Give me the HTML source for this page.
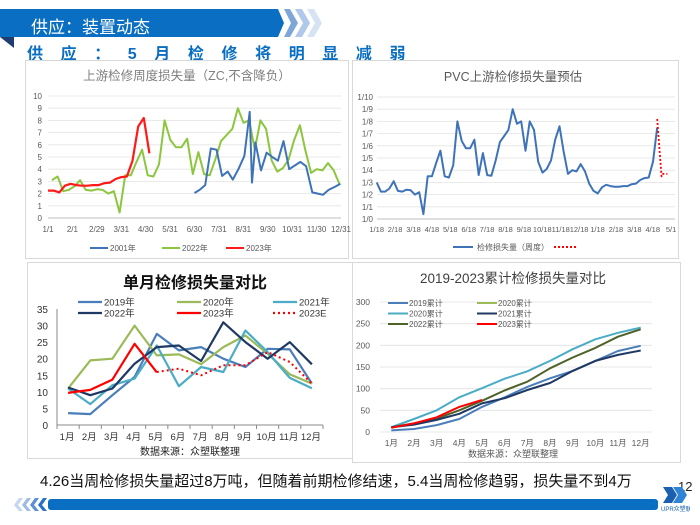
<!DOCTYPE html>
<html><head><meta charset="utf-8">
<style>
body{margin:0;width:700px;height:525px;overflow:hidden;background:#fff;font-family:"Liberation Sans","Noto Sans CJK SC",sans-serif;position:relative}
.abs{position:absolute}
</style></head>
<body>
<svg class="abs" style="left:0;top:9px" width="290" height="29"><polygon points="0,0 278,0 284,14 278,28 0,28" fill="#0a6fc2"/></svg>
<div class="abs" style="left:31px;top:13px;color:#fff;font-size:17px;font-family:'Liberation Sans','Noto Sans CJK SC',sans-serif">供应：装置动态</div>
<svg class="abs" style="left:284px;top:9px" width="50" height="30">
<polygon points="0,0 6,0 14,14 6,28 0,28 7,14" fill="#7fa6d9"/>
<polygon points="11,0 18,0 26,14 18,28 11,28 19,14" fill="#b0c9ea"/>
<polygon points="23,0 30,0 38,14 30,28 23,28 31,14" fill="#d6e3f3"/>
</svg>
<svg class="abs" style="left:0;top:37px" width="14" height="12"><polygon points="0,0 14,0 14,11" fill="#1f3d70"/></svg>
<div class="abs" style="left:27px;top:40px;color:#0a6fc2;font-size:16px;font-weight:bold;letter-spacing:17.6px;font-family:'Liberation Sans','Noto Sans CJK SC',sans-serif;white-space:nowrap">供应：5月检修将明显减弱</div>

<svg class="abs" id="c1" style="left:0;top:0" width="700" height="525"></svg>

<div class="abs" style="left:40px;top:470px;font-size:15px;color:#111;font-family:'Liberation Sans','Noto Sans CJK SC',sans-serif">4.26当周检修损失量超过8万吨，但随着前期检修结速，5.4当周检修趋弱，损失量不到4万</div>
<div class="abs" style="left:678px;top:479px;font-size:13px;color:#222">12</div>
<svg class="abs" style="left:14px;top:498px" width="645" height="14">
<polygon points="0,7 5,0 9,0 4,7 9,13 5,13" fill="#c5d6ee"/>
<polygon points="8,7 13,0 17,0 12,7 17,13 13,13" fill="#9dbbe3"/>
<polygon points="16,7 21,0 25,0 20,7 25,13 21,13" fill="#5d90d2"/>
<polygon points="24,7 29,0 33,0 28,7 33,13 29,13" fill="#2a6fc4"/>
<rect x="34" y="1" width="610" height="11" rx="3" fill="#0a6fc2"/>
</svg>
<svg class="abs" style="left:660px;top:484px" width="30" height="28">
<polygon points="3,3 12,3 17,11 12,19 3,19 8,11" fill="#1a5fb0"/>
<polygon points="13,3 22,3 27,11 22,19 13,19 18,11" fill="#2f84d6"/>
<text x="1" y="27" font-size="6" fill="#1a5fb0">UPR众塑联</text>
</svg>

<script>
// ---------- Chart 1 data ----------
const c1Ticks = ["1/1","2/1","2/29","3/31","4/30","5/31","6/30","7/31","8/31","9/30","10/31","11/30","12/31"];
const c1Red = [2.25,2.25,2.1,2.65,2.8,2.7,2.65,2.65,2.7,2.7,2.85,2.9,3.2,3.35,3.4,4.7,7.5,8.2,5.3];
const c1GreenStart = 0.7;
const c1Green = [3.1,3.4,2.2,2.3,2.6,3.1,2.3,2.25,2.35,2.3,2.0,2.2,0.45,3.5,3.5,4.6,5.6,3.5,3.4,4.4,8.0,6.4,5.8,5.8,6.5,3.6,5.4,3.6,3.5,4.8,6.3,6.8,7.3,9.0,7.8,8.0,5.6,8.0,7.3,4.7,3.8,4.1,4.8,6.4,7.6,5.5,3.7,4.0,3.9,4.5,3.9,2.8];
const c1BlueWeeks = [26,26.9,27.9,28.9,29.9,30.9,31.9,32.8,33.8,34.85,35.8,36.2,36.8,37.8,38.8,39.8,40.8,41.8,42.8,43.8,44.8,45.8,46.9,47.9,48.8,49.8,50.9,51.9];
const c1Blue = [2.05,2.3,2.7,5.7,5.6,3.45,3.8,3.15,4.0,5.1,8.7,2.9,6.2,3.9,5.35,5.0,4.7,6.3,4.0,4.3,4.6,4.25,2.1,2.0,1.9,2.3,2.55,2.8];
// ---------- Chart 2 data ----------
const c2Ticks = ["1/18","2/18","3/18","4/18","5/18","6/18","7/18","8/18","9/18","10/18","11/18","12/18","1/18","2/18","3/18","4/18","5/1"];
const c2YTicks = ["1/0","1/1","1/2","1/3","1/4","1/5","1/6","1/7","1/8","1/9","1/10"];
const c2Blue = [3.0,2.25,2.25,2.5,3.1,2.3,2.25,2.4,2.35,2.0,2.2,0.4,3.5,3.5,4.6,5.6,3.5,3.4,4.4,8.0,6.4,5.8,5.8,6.5,3.6,5.4,3.6,3.55,4.8,6.3,6.8,7.3,9.0,7.8,8.0,5.6,8.0,7.3,4.7,3.8,4.1,4.8,6.5,7.6,5.5,3.7,4.0,3.9,4.5,3.9,2.9,2.3,2.1,2.6,2.8,2.7,2.65,2.65,2.7,2.7,2.85,2.9,3.2,3.35,3.4,4.7,7.5];
const c2EstIdx = [66,67,67.2,68.4];
const c2Est = [8.2,3.5,3.7,3.7];
// ---------- Chart 3 data ----------
const months = ["1月","2月","3月","4月","5月","6月","7月","8月","9月","10月","11月","12月"];
const m2019 = [3.6,3.3,9,14.5,27.5,22.5,23.5,20,17.5,23,22.8,12.5];
const m2020 = [11,19.5,20,30,21,21.3,18.3,23.5,27,21.5,15.3,12.5];
const m2021 = [11,6.3,12,14,24,11.7,17.5,16,28.5,22,14.2,11.1];
const m2022 = [11.3,9,11,18.5,23.5,24,19.3,31,25,20,25,18.3];
const m2023 = [9.7,10.6,13.7,24.5,15.9];
const m2023E = [null,null,null,null,16,17,15,18,18,22,19,12.5];
// ---------- Chart 4 data ----------
const cum2019 = [3.6,7,16,30,58,80,104,124,141,164,187,199];
const cum2020 = [11,30,50,80,101,123,140,164,191,214,229,241];
const cum2021 = [11,17,28,42,66,78,97,113,141,164,178,188];
const cum2022 = [11,20,31,50,72,96,116,147,172,194,220,237];
const cum2023 = [9.7,20,34,58,74];

const NS="http://www.w3.org/2000/svg";
const svg=document.getElementById('c1');
function el(tag,attrs,parent){const e=document.createElementNS(NS,tag);for(const k in attrs)e.setAttribute(k,attrs[k]);(parent||svg).appendChild(e);return e;}
function txt(x,y,s,size,fill,anchor,weight){const t=el('text',{x:x,y:y,'font-size':size,fill:fill,'text-anchor':anchor||'middle','font-weight':weight||'normal','font-family':'Liberation Sans, Noto Sans CJK SC, sans-serif'});t.textContent=s;return t;}
function poly(pts,color,w,dash){const d=pts.filter(p=>p).map(p=>p[0].toFixed(1)+','+p[1].toFixed(1)).join(' ');const a={points:d,fill:'none',stroke:color,'stroke-width':w,'stroke-linejoin':'round'};if(dash)a['stroke-dasharray']=dash;return el('polyline',a);}

// panels
[[25,60,323,198],[352,60,326,198],[27,262,326,196],[352,262,328,200]].forEach((r,i)=>{
 const p=el('rect',{x:r[0]+.5,y:r[1]+.5,width:r[2],height:r[3],fill:'#fff',stroke:'#d9d9d9'});
 
 
});

// ===== Chart 1 =====
{
const L=48,R=341,T=96,B=218;
const xs=w=>L+(R-L)*w/52, ys=v=>B-(B-T)*v/10;
for(let v=0;v<=10;v++){const g=el('line',{x1:L,x2:R,y1:ys(v),y2:ys(v),stroke:'#e3e3e3','stroke-width':.8});
 const t=txt(L-6,ys(v)+3,String(v),8,'#595959','end');}
el('line',{x1:L,x2:R,y1:B,y2:B,stroke:'#bfbfbf'});
c1Ticks.forEach((s,i)=>{const t=txt(L+(R-L)*i/12,232,s,8,'#595959');});
const tt=txt(187,80,'上游检修周度损失量（ZC,不含降负）',12.5,'#7f7f7f');
let l=poly(c1Green.map((v,i)=>[xs(i+c1GreenStart),ys(v)]),'#8cc63f',2);
l=poly(c1Blue.map((v,i)=>[xs(c1BlueWeeks[i]),ys(v)]),'#3f73b8',2);
l=poly(c1Red.map((v,i)=>[xs(i),ys(v)]),'#ff1a1a',2.2);
[['#3f73b8','2001年',116],['#8cc63f','2022年',188],['#ff1a1a','2023年',252]].forEach(e=>{
 const ln=el('line',{x1:e[2]-26,x2:e[2]-8,y1:248,y2:248,stroke:e[0],'stroke-width':2});
 const t=txt(e[2]-6,251,e[1],8,'#595959','start');});
}

// ===== Chart 2 =====
{
const L=377,R=675,T=97,B=219;
const xs=i=>376.7+i*4.25, ys=v=>B-(B-T)*v/10;
c2YTicks.forEach((s,v)=>{el('line',{x1:L,x2:R,y1:ys(v),y2:ys(v),stroke:'#e3e3e3','stroke-width':.8});
 const t=txt(L-4,ys(v)+3,s,8,'#595959','end');});
el('line',{x1:L,x2:R,y1:B,y2:B,stroke:'#bfbfbf'});
c2Ticks.forEach((s,i)=>{const t=txt(376.7+i*18.4,232,s,7.5,'#595959');});
const tt=txt(513,81,'PVC上游检修损失量预估',12.5,'#595959');
let l=poly(c2Blue.map((v,i)=>[xs(i),ys(v)]),'#3f73b8',2);
l=poly(c2Est.map((v,i)=>[xs(c2EstIdx[i]),ys(v)]),'#ff0000',1.8,'2,2');
let ln=el('line',{x1:453,x2:473,y1:247,y2:247,stroke:'#3f73b8','stroke-width':2});
let t=txt(477,250,'检修损失量（周度）',8,'#595959','start');
ln=el('line',{x1:554,x2:576,y1:247,y2:247,stroke:'#ff0000','stroke-width':2,'stroke-dasharray':'2,2'});
}

// ===== Chart 3 =====
{
const L=57,R=323,T=309,B=425;
const step=(R-L)/12, xs=i=>L+step*(i+.5), ys=v=>B-(B-T)*v/35;
for(let v=0;v<=35;v+=5){const t=txt(L-9,ys(v)+4,String(v),10,'#333','end');}
el('line',{x1:L,x2:L,y1:T,y2:B,stroke:'#888'});
el('line',{x1:L,x2:R,y1:B,y2:B,stroke:'#888'});
for(let i=0;i<=12;i++)el('line',{x1:L+step*i,x2:L+step*i,y1:B,y2:B+4,stroke:'#888'});
months.forEach((s,i)=>{const t=txt(xs(i)-1,440,s,9.5,'#333');});
let t=txt(195,288,'单月检修损失量对比',16,'#111','middle','bold');
t=txt(190,455,'数据来源：众塑联整理',10,'#222');
const series=[[m2019,'#4a7ebb','2019年'],[m2020,'#9bbb59','2020年'],[m2021,'#4bacc6','2021年'],[m2022,'#1f3864','2022年'],[m2023,'#ff0000','2023年']];
series.forEach(s=>{const l=poly(s[0].map((v,i)=>[xs(i),ys(v)]),s[1],2.2);});
let l=poly(m2023E.map((v,i)=>v==null?null:[xs(i),ys(v)]),'#ff0000',2,'2,3');
const leg=[[78,302,'#4a7ebb','2019年'],[177,302,'#9bbb59','2020年'],[273,302,'#4bacc6','2021年'],[78,313,'#1f3864','2022年'],[177,313,'#ff0000','2023年'],[273,313,'#ff0000','2023E']];
leg.forEach(e=>{const a={x1:e[0],x2:e[0]+24,y1:e[1],y2:e[1],stroke:e[2],'stroke-width':2.2};if(e[3]=='2023E')a['stroke-dasharray']='2,3';
 const ln=el('line',a);
 const t=txt(e[0]+26,e[1]+3.5,e[3],9.5,'#333','start');});
}

// ===== Chart 4 =====
{
const L=380,R=652,T=302,B=432;
const step=(R-L)/12, xs=i=>L+step*(i+.5), ys=v=>B-(B-T)*v/300;
for(let v=0;v<=300;v+=50){el('line',{x1:L,x2:R,y1:ys(v),y2:ys(v),stroke:'#e0e0e0','stroke-width':.8});
 const t=txt(L-10,ys(v)+3,String(v),8.5,'#595959','end');}
months.forEach((s,i)=>{const t=txt(xs(i),446,s,8.5,'#595959');});
let t=txt(513,283,'2019-2023累计检修损失量对比',13.5,'#404040');
t=txt(513,457,'数据来源：众塑联整理',9,'#595959');
const series=[[cum2019,'#4a7ebb','2019累计'],[cum2020,'#4bacc6','2020累计'],[cum2022,'#4f6228','2022累计'],[cum2021,'#1f3864','2021累计'],[cum2023,'#ff0000','2023累计']];
series.forEach(s=>{const l=poly(s[0].map((v,i)=>[xs(i),ys(v)]),s[1],2);});
const leg=[[388,303,'#4a7ebb','2019累计'],[477,303,'#9bbb59','2020累计'],[388,313.5,'#4bacc6','2020累计'],[477,313.5,'#1f3864','2021累计'],[388,324,'#4f6228','2022累计'],[477,324,'#ff0000','2023累计']];
leg.forEach(e=>{const ln=el('line',{x1:e[0],x2:e[0]+20,y1:e[1],y2:e[1],stroke:e[2],'stroke-width':2});
 const t=txt(e[0]+21,e[1]+3,e[3],8,'#595959','start');});
}
</script>
</body></html>
